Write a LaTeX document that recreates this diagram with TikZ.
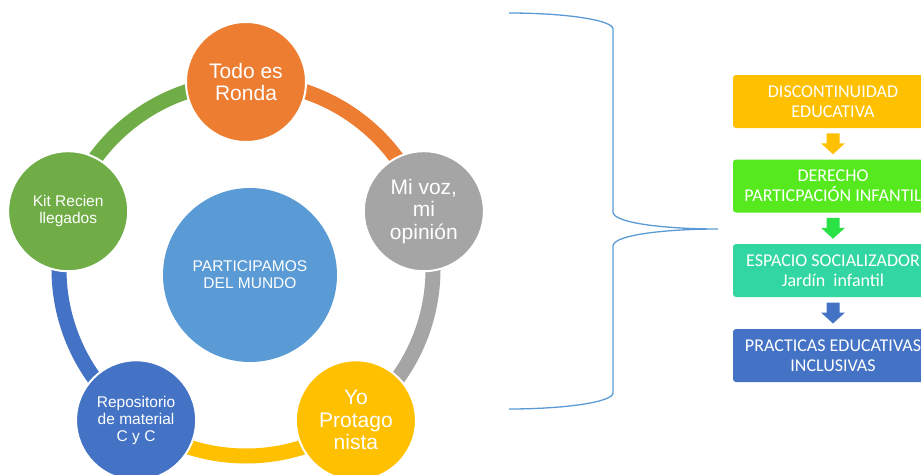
\documentclass[tikz,border=0pt]{standalone}
\usepackage{fontspec}
\setmainfont{Liberation Sans}
\newfontfamily\calibri{Carlito}
\usetikzlibrary{calc}
\definecolor{cOrange}{RGB}{237,125,49}
\definecolor{cGray}{RGB}{165,165,165}
\definecolor{cYellow}{RGB}{255,192,0}
\definecolor{cBlue}{RGB}{68,114,196}
\definecolor{cGreen}{RGB}{112,173,71}
\definecolor{cCenter}{RGB}{91,155,213}
\definecolor{bGreen}{RGB}{86,234,30}
\definecolor{aGreen}{RGB}{42,226,70}
\definecolor{bTeal}{RGB}{50,214,160}
\newcommand\dnarrow[2]{%
  \fill[#2] ($(#1)+(-6.5,-10.5)$) -- ($(#1)+(6.5,-10.5)$) -- ($(#1)+(6.5,-0.5)$)
    -- ($(#1)+(12,-0.5)$) -- ($(#1)+(0,10.5)$) -- ($(#1)+(-12,-0.5)$)
    -- ($(#1)+(-6.5,-0.5)$) -- cycle;}
\begin{document}
\begin{tikzpicture}[x=1pt,y=-1pt,
  sat/.style={circle, minimum size=120pt, inner sep=0pt, draw=white, line width=2pt, text=white, align=center},
  bigtext/.style={font=\fontsize{21}{22.5}\selectfont},
  smalltext/.style={font=\fontsize{15.5}{17}\selectfont},
  ringarc/.style={line width=15pt},
  flowbox/.style={rounded corners=3pt, minimum width=200pt, minimum height=53pt, inner sep=0pt, text=white, align=center, font=\calibri\fontsize{18}{20}\selectfont},
  brc/.style={draw=cCenter, line width=1.3pt}
]
\path[use as bounding box] (0,0) rectangle (921,474);
\clip (0,0) rectangle (921,474);

% ring
\begin{scope}[shift={(246,269)}]
  \draw[ringarc, cOrange] (-90:187) arc[start angle=-90, end angle=-18, radius=187];
  \draw[ringarc, cGray] (-18:187) arc[start angle=-18, end angle=54, radius=187];
  \draw[ringarc, cYellow] (54:187) arc[start angle=54, end angle=126, radius=187];
  \draw[ringarc, cBlue] (126:187) arc[start angle=126, end angle=198, radius=187];
  \draw[ringarc, cGreen] (198:187) arc[start angle=198, end angle=270, radius=187];
  \node[sat, fill=cOrange, bigtext] (todo) at (-90:187) {Todo es\\Ronda};
  \node[sat, fill=cGray, bigtext] (mivoz) at (-18:187) {Mi voz,\\mi\\opinión};
  \node[sat, fill=cYellow, bigtext] (yo) at (54:187) {Yo\\Protago\\nista};
  \node[sat, fill=cBlue, smalltext] (repo) at (126:187) {Repositorio\\de material\\C y C};
  \node[sat, fill=cGreen, smalltext] (kit) at (198:187) {Kit Recien\\llegados};
\end{scope}
\node[circle, fill=cCenter, minimum size=174pt, inner sep=0pt, text=white, align=center, smalltext] (center) at (250,275) {PARTICIPAMOS\\DEL MUNDO};

% brace
\draw[brc] (509,13) .. controls (565,13) and (613,20) .. (613,29) -- (613,212)
  .. controls (613,223) and (665,229) .. (718,229)
  .. controls (665,229) and (613,235) .. (613,246) -- (613,393)
  .. controls (613,402) and (565,409) .. (509,409);

% flow
\node[flowbox, fill=cYellow] (b1) at (833,101.5) {DISCONTINUIDAD\\EDUCATIVA};
\node[flowbox, fill=bGreen] (b2) at (833,186) {DERECHO\\PARTICPACIÓN INFANTIL};
\node[flowbox, fill=bTeal] (b3) at (833,270.5) {ESPACIO SOCIALIZADOR\\Jardín\ \ infantil};
\node[flowbox, fill=cBlue] (b4) at (833,355.5) {PRACTICAS EDUCATIVAS\\INCLUSIVAS};
\coordinate (a1) at ($(b1.south)!0.5!(b2.north)$);
\coordinate (a2) at ($(b2.south)!0.5!(b3.north)$);
\coordinate (a3) at ($(b3.south)!0.5!(b4.north)$);
\dnarrow{a1}{cYellow}
\dnarrow{a2}{aGreen}
\dnarrow{a3}{cBlue}
\end{tikzpicture}
\end{document}
